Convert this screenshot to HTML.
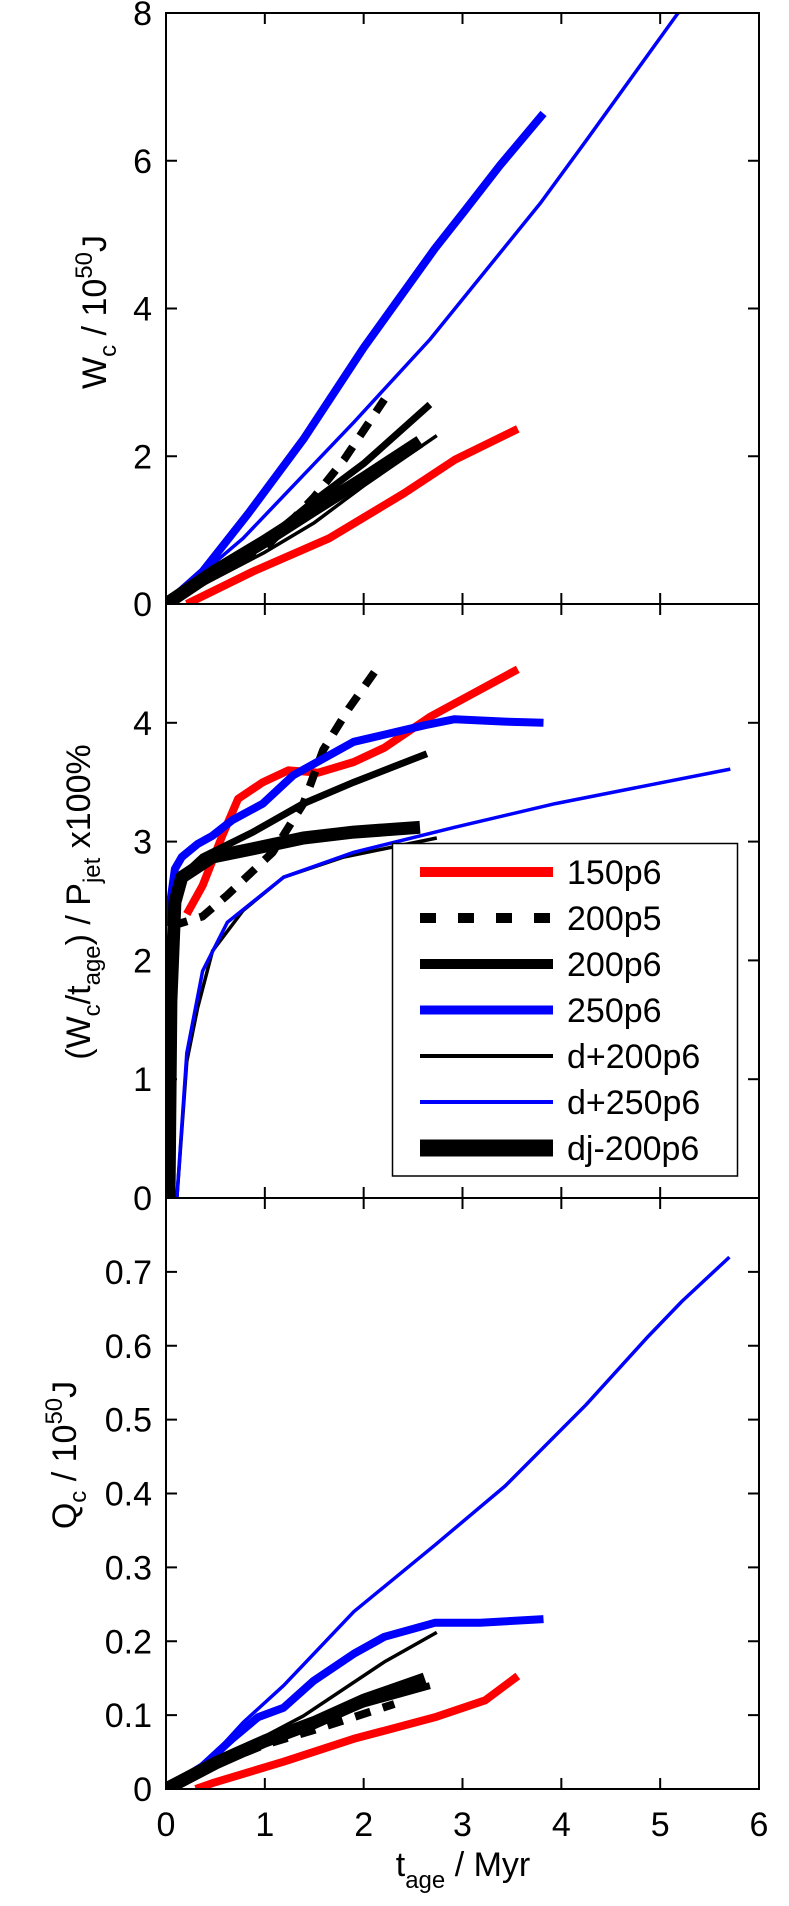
<!DOCTYPE html>
<html><head><meta charset="utf-8"><style>
html,body{margin:0;padding:0;background:#fff;}
svg{display:block;font-family:"Liberation Sans",sans-serif;}
</style></head><body>
<svg id="fig" width="789" height="1906" viewBox="0 0 789 1906" xmlns="http://www.w3.org/2000/svg">
<defs>
<clipPath id="c0"><rect x="166" y="13" width="593" height="591"/></clipPath>
<clipPath id="c1"><rect x="166" y="604" width="593" height="594"/></clipPath>
<clipPath id="c2"><rect x="166" y="1198" width="593" height="591"/></clipPath>
</defs>
<g id="layer"></g>
</svg>
<script>
// ---- data ----
const seriesNames = ["150p6","200p5","200p6","250p6","d+200p6","d+250p6","dj-200p6"];
const xTicks = [0,1,2,3,4,5,6];
const yTicksTop = [0,2,4,6,8];
const yTicksMid = [0,1,2,3,4];
const yTicksBot = [0,0.1,0.2,0.3,0.4,0.5,0.6,0.7];

// Top panel W_c
const top150p6_t = [0.21,0.88,1.65,2.41,2.92,3.56];
const top150p6_v = [0,0.44,0.89,1.5,1.95,2.37];
const top200p5_t = [0,0.5,1,1.5,1.8,2.21];
const top200p5_v = [0,0.4,0.75,1.45,1.95,2.77];
const top200p6_t = [0,0.5,1,1.5,2,2.67];
const top200p6_v = [0,0.45,0.85,1.4,1.9,2.7];
const top250p6_t = [0,0.37,0.83,1.39,2.0,2.72,3.02,3.38,3.82];
const top250p6_v = [0,0.44,1.22,2.23,3.47,4.81,5.32,5.94,6.64];
const topd200_t = [0,0.5,1,1.5,2,2.74];
const topd200_v = [0,0.35,0.7,1.1,1.6,2.28];
const topd250_t = [0,0.78,1.9,2.67,3.79,4.25,5.17,5.7];
const topd250_v = [0,0.89,2.46,3.58,5.43,6.27,7.98,8.9];
const topdj_t = [0,0.5,1,1.5,2,2.57];
const topdj_v = [0,0.45,0.85,1.28,1.7,2.2];

// Middle panel ratio
const mid150p6_t = [0.21,0.37,0.57,0.73,0.98,1.24,1.54,1.9,2.21,2.67,3.56];
const mid150p6_v = [2.39,2.63,3.05,3.36,3.5,3.6,3.58,3.67,3.79,4.05,4.45];
const mid200p5_t = [0.06,0.37,0.62,1.08,1.39,1.59,1.85,2.18];
const mid200p5_v = [2.29,2.37,2.55,2.91,3.32,3.77,4.12,4.51];
const mid200p6_t = [0.06,0.37,0.88,1.39,1.9,2.64];
const mid200p6_v = [2.63,2.87,3.08,3.32,3.5,3.74];
const mid250p6_t = [0.01,0.09,0.16,0.32,0.47,0.67,0.98,1.29,1.9,2.62,2.92,3.43,3.82];
const mid250p6_v = [2.29,2.77,2.87,2.98,3.05,3.18,3.32,3.56,3.84,3.98,4.03,4.01,4.0];
const midd200_t = [0.11,0.21,0.32,0.47,0.78,1.19,1.8,2.74];
const midd200_v = [0,1.15,1.6,2.08,2.42,2.7,2.87,3.03];
const midd250_t = [0.11,0.21,0.37,0.62,1.19,1.9,2.92,3.94,5.71];
const midd250_v = [0,1.22,1.91,2.32,2.7,2.91,3.12,3.32,3.61];
const middj_t = [0.03,0.05,0.09,0.16,0.47,0.88,1.39,1.9,2.57];
const middj_v = [0,1.66,2.49,2.7,2.87,2.94,3.03,3.08,3.12];

// Bottom panel Q_c
const bot150p6_t = [0.3,0.47,1.19,1.9,2.72,3.23,3.56];
const bot150p6_v = [0,0.008,0.037,0.068,0.097,0.12,0.153];
const bot200p5_t = [0,0.5,1,1.5,2.31];
const bot200p5_v = [0,0.033,0.06,0.08,0.115];
const bot200p6_t = [0,0.5,1,1.5,2,2.67];
const bot200p6_v = [0,0.035,0.062,0.088,0.115,0.14];
const bot250p6_t = [0,0.37,0.67,0.93,1.19,1.49,1.9,2.21,2.72,3.18,3.82];
const bot250p6_v = [0,0.031,0.068,0.097,0.11,0.146,0.183,0.206,0.225,0.225,0.23];
const botd200_t = [0,0.88,1.39,2.21,2.74];
const botd200_v = [0,0.063,0.099,0.172,0.212];
const botd250_t = [0,0.37,0.78,1.19,1.9,2.72,3.43,4.25,4.86,5.22,5.7];
const botd250_v = [0,0.03,0.09,0.14,0.24,0.33,0.41,0.52,0.61,0.66,0.72];
const botdj_t = [0,0.5,1,1.5,2,2.62];
const botdj_v = [0,0.035,0.065,0.09,0.12,0.149];

// ---- layout ----
const NS = "http://www.w3.org/2000/svg";
const layer = document.getElementById('layer');
const X0 = 166, X1 = 759;
const panels = [
  {y0:604, y1:13, max:8, ticks:yTicksTop, fmt:v=>String(v), clip:'c0', name:'top-panel'},
  {y0:1198, y1:604, max:5, ticks:yTicksMid, fmt:v=>String(v), clip:'c1', name:'middle-panel'},
  {y0:1789, y1:1198, max:0.8, ticks:yTicksBot, fmt:v=>v===0?'0':v.toFixed(1), clip:'c2', name:'bottom-panel'}
];
function sx(t){ return X0 + t/6*(X1-X0); }
function sy(p,v){ return p.y0 - v/p.max*(p.y0-p.y1); }
function el(tag, attrs, parent){
  const e = document.createElementNS(NS, tag);
  for (const k in attrs) e.setAttribute(k, attrs[k]);
  (parent||layer).appendChild(e);
  return e;
}
const styles = [
  {c:'#ff0000', w:8, d:''},
  {c:'#000', w:8, d:'16 13'},
  {c:'#000', w:7, d:''},
  {c:'#0000ff', w:8, d:''},
  {c:'#000', w:3.5, d:''},
  {c:'#0000ff', w:3.5, d:''},
  {c:'#000', w:13, d:''}
];
const panelData = [
  [[top150p6_t,top150p6_v],[top200p5_t,top200p5_v],[top200p6_t,top200p6_v],[top250p6_t,top250p6_v],[topd200_t,topd200_v],[topd250_t,topd250_v],[topdj_t,topdj_v]],
  [[mid150p6_t,mid150p6_v],[mid200p5_t,mid200p5_v],[mid200p6_t,mid200p6_v],[mid250p6_t,mid250p6_v],[midd200_t,midd200_v],[midd250_t,midd250_v],[middj_t,middj_v]],
  [[bot150p6_t,bot150p6_v],[bot200p5_t,bot200p5_v],[bot200p6_t,bot200p6_v],[bot250p6_t,bot250p6_v],[botd200_t,botd200_v],[botd250_t,botd250_v],[botdj_t,botdj_v]]
];

panels.forEach((p, pi) => {
  const g = el('g', {'clip-path':'url(#'+p.clip+')'});
  
  
  panelData[pi].forEach((sd, si) => {
    const [ts, vs] = sd;
    const pts = ts.map((t,i)=> sx(t).toFixed(1)+','+sy(p, vs[i]).toFixed(1)).join(' ');
    const s = styles[si];
    const line = el('polyline', {points:pts, fill:'none', stroke:s.c, 'stroke-width':s.w, 'stroke-linejoin':'round', 'stroke-dasharray':s.d}, g);
    
    
  });
  // frame
  const fr = el('rect', {x:X0, y:p.y1, width:X1-X0, height:p.y0-p.y1, fill:'none', stroke:'#000', 'stroke-width':2});
  
  
  // x ticks
  xTicks.forEach(t => {
    const x = sx(t);
    el('line', {x1:x, x2:x, y1:p.y0, y2:p.y0-11, stroke:'#000', 'stroke-width':2});
    el('line', {x1:x, x2:x, y1:p.y1, y2:p.y1+11, stroke:'#000', 'stroke-width':2});
  });
  // y ticks + labels
  p.ticks.forEach(v => {
    const y = sy(p, v);
    el('line', {x1:X0, x2:X0+11, y1:y, y2:y, stroke:'#000', 'stroke-width':2});
    el('line', {x1:X1, x2:X1-11, y1:y, y2:y, stroke:'#000', 'stroke-width':2});
    const tx = el('text', {x:152, y:y+12, 'text-anchor':'end', 'font-size':34});
    tx.textContent = p.fmt(v);
    
    
  });
});
// x tick labels
xTicks.forEach(t => {
  const tx = el('text', {x:sx(t), y:1836, 'text-anchor':'middle', 'font-size':34});
  tx.textContent = String(t);
  
  
});

// legend
const lg = el('g', {});


el('rect', {x:392.5, y:843.5, width:345, height:332.5, fill:'#fff', stroke:'#000', 'stroke-width':1.5}, lg);
const legendW = [10, 10, 10, 9, 4, 4, 17];
seriesNames.forEach((n, i) => {
  const y = 872 + i*46;
  const s = styles[i];
  const ln = el('line', {x1:420, x2:553, y1:y, y2:y, stroke:s.c, 'stroke-width':legendW[i], 'stroke-dasharray': i===1 ? '16 22' : ''}, lg);
  
  
  const tx = el('text', {x:567, y:y+12, 'font-size':34}, lg);
  tx.textContent = n;
  
  
});
</script>
<svg width="789" height="1906" style="position:absolute;left:0;top:0" xmlns="http://www.w3.org/2000/svg">
<text transform="translate(106,312) rotate(-90)" text-anchor="middle" font-size="34" font-family="Liberation Sans, sans-serif">W<tspan font-size="24" dy="10">c</tspan><tspan dy="-10"> / 10</tspan><tspan font-size="24" dy="-14">50</tspan><tspan dy="14">J</tspan></text>
<text transform="translate(90,902) rotate(-90)" text-anchor="middle" font-size="34" font-family="Liberation Sans, sans-serif">(W<tspan font-size="24" dy="10">c</tspan><tspan dy="-10">/t</tspan><tspan font-size="24" dy="10">age</tspan><tspan dy="-10">) / P</tspan><tspan font-size="24" dy="10">jet</tspan><tspan dy="-10"> x100%</tspan></text>
<text transform="translate(76,1455) rotate(-90)" text-anchor="middle" font-size="34" font-family="Liberation Sans, sans-serif">Q<tspan font-size="24" dy="10">c</tspan><tspan dy="-10"> / 10</tspan><tspan font-size="24" dy="-14">50</tspan><tspan dy="14">J</tspan></text>
<text x="463" y="1876" text-anchor="middle" font-size="34" font-family="Liberation Sans, sans-serif">t<tspan font-size="24" dy="12">age</tspan><tspan dy="-12"> / Myr</tspan></text>
</svg>
</body></html>
